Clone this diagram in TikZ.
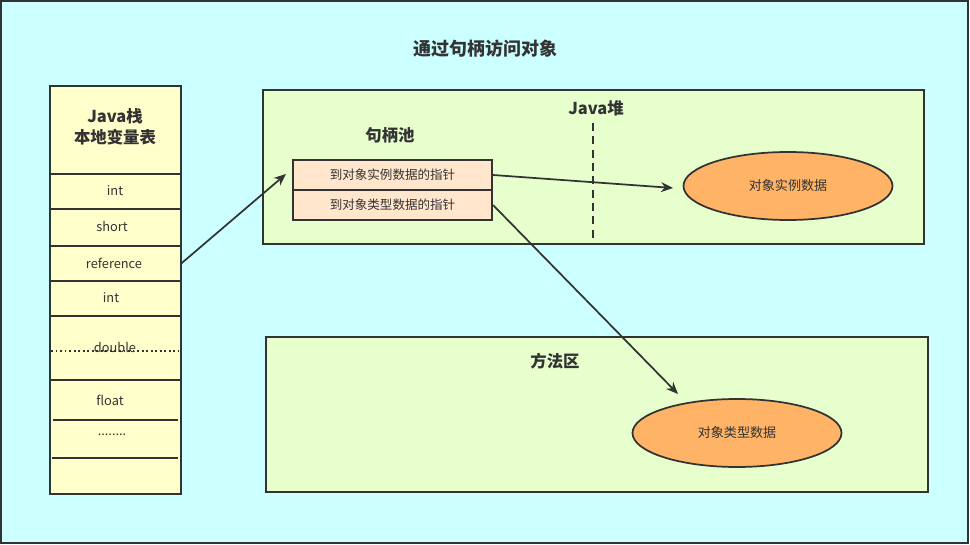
\documentclass[tikz,border=0pt]{standalone}
\usepackage{fontspec}
\setmainfont{Noto Sans CJK SC}
\usetikzlibrary{fit,shapes.geometric,arrows.meta}
\definecolor{bgcyan}{HTML}{CCFFFF}
\definecolor{stackfill}{HTML}{FFFFCC}
\definecolor{heapfill}{HTML}{E6FFCC}
\definecolor{handlefill}{HTML}{FFE6CC}
\definecolor{ellfill}{HTML}{FFB366}
\definecolor{ink}{HTML}{333333}
\begin{document}
\begin{tikzpicture}[x=0.75pt,y=-0.75pt,
  area/.style={draw=ink,line width=1.5pt,inner sep=0pt},
  sep/.style={draw=ink,line width=1.5pt},
  celltext/.style={font=\fontsize{9.6}{10}\selectfont,text=ink,inner sep=0pt},
  headtext/.style={font=\fontsize{12.3}{15.5}\selectfont\bfseries,text=ink,align=center,inner sep=0pt},
  handletext/.style={font=\fontsize{9.4}{10}\selectfont,text=ink,inner sep=0pt},
  obj/.style={ellipse,draw=ink,line width=1.3pt,fill=ellfill,minimum width=156.75pt,minimum height=51pt,inner sep=0pt,font=\fontsize{9.8}{10}\selectfont,text=ink},
  conn/.style={draw=ink,line width=1.3pt,-{Stealth[length=9pt,width=7.5pt]}}]
\useasboundingbox (0,0) rectangle (970,545);
\node[area,fill=bgcyan,fit={(1,1)(968,543)}] (frame) {};
\node[font=\fontsize{13.5}{15}\selectfont\bfseries,text=ink] (title) at (485,49) {通过句柄访问对象};
% Java stack
\node[area,fill=stackfill,fit={(50,86)(181,494)}] (stack) {};
\node[headtext] (stackhead) at (115,127) {Java栈\\本地变量表};
\draw[sep] (50,174) -- (181,174);
\draw[sep] (50,209) -- (181,209);
\draw[sep] (50,246) -- (181,246);
\draw[sep] (50,281) -- (181,281);
\draw[sep] (50,316) -- (181,316);
\draw[draw=ink,line width=1.4pt,dotted] (51,351) -- (179,351);
\draw[draw=ink,line width=2.2pt] (50,380) -- (181,380);
\draw[sep] (53,420) -- (178,420);
\draw[sep] (52,458) -- (178,458);
\node[celltext] (c1) at (115,191) {int};
\node[celltext] (c2) at (112,226) {short};
\node[inner sep=0pt,fit={(50,246)(181,281)}] (ref) {};
\node[celltext] (c3) at (114,263) {reference};
\node[celltext] (c4) at (111,298) {int};
\node[celltext] (c5) at (115,347) {double};
\node[celltext] (c6) at (110,400) {float};
\node[celltext] (c7) at (112,435) {........};
% Java heap
\node[area,fill=heapfill,fit={(263,90)(924,244)}] (heap) {};
\node[headtext] (heaplabel) at (596,108) {Java堆};
\draw[draw=ink,line width=1.5pt,dash pattern=on 6pt off 4pt] (593,123) -- (593,244);
\node[headtext] (poollabel) at (390,135) {句柄池};
\node[area,fill=handlefill,fit={(293,160)(492,190)}] (h1) {};
\node[handletext] at (h1.center) {到对象实例数据的指针};
\node[area,fill=handlefill,fit={(293,190)(492,220)}] (h2) {};
\node[handletext] at (h2.center) {到对象类型数据的指针};
\node[obj] (inst) at (788,186) {对象实例数据};
% Method area
\node[area,fill=heapfill,fit={(266,337)(928,492)}] (method) {};
\node[headtext] (methodlabel) at (555,361) {方法区};
\node[obj] (type) at (737,433) {对象类型数据};
% connectors
\coordinate (t1) at (286,174);
\coordinate (t2) at (673,188);
\coordinate (t3) at (678,394);
\draw[conn] (ref.east) -- (t1);
\draw[conn] (h1.east) -- (t2);
\draw[conn] (h2.east) -- (t3);
\end{tikzpicture}
\end{document}
